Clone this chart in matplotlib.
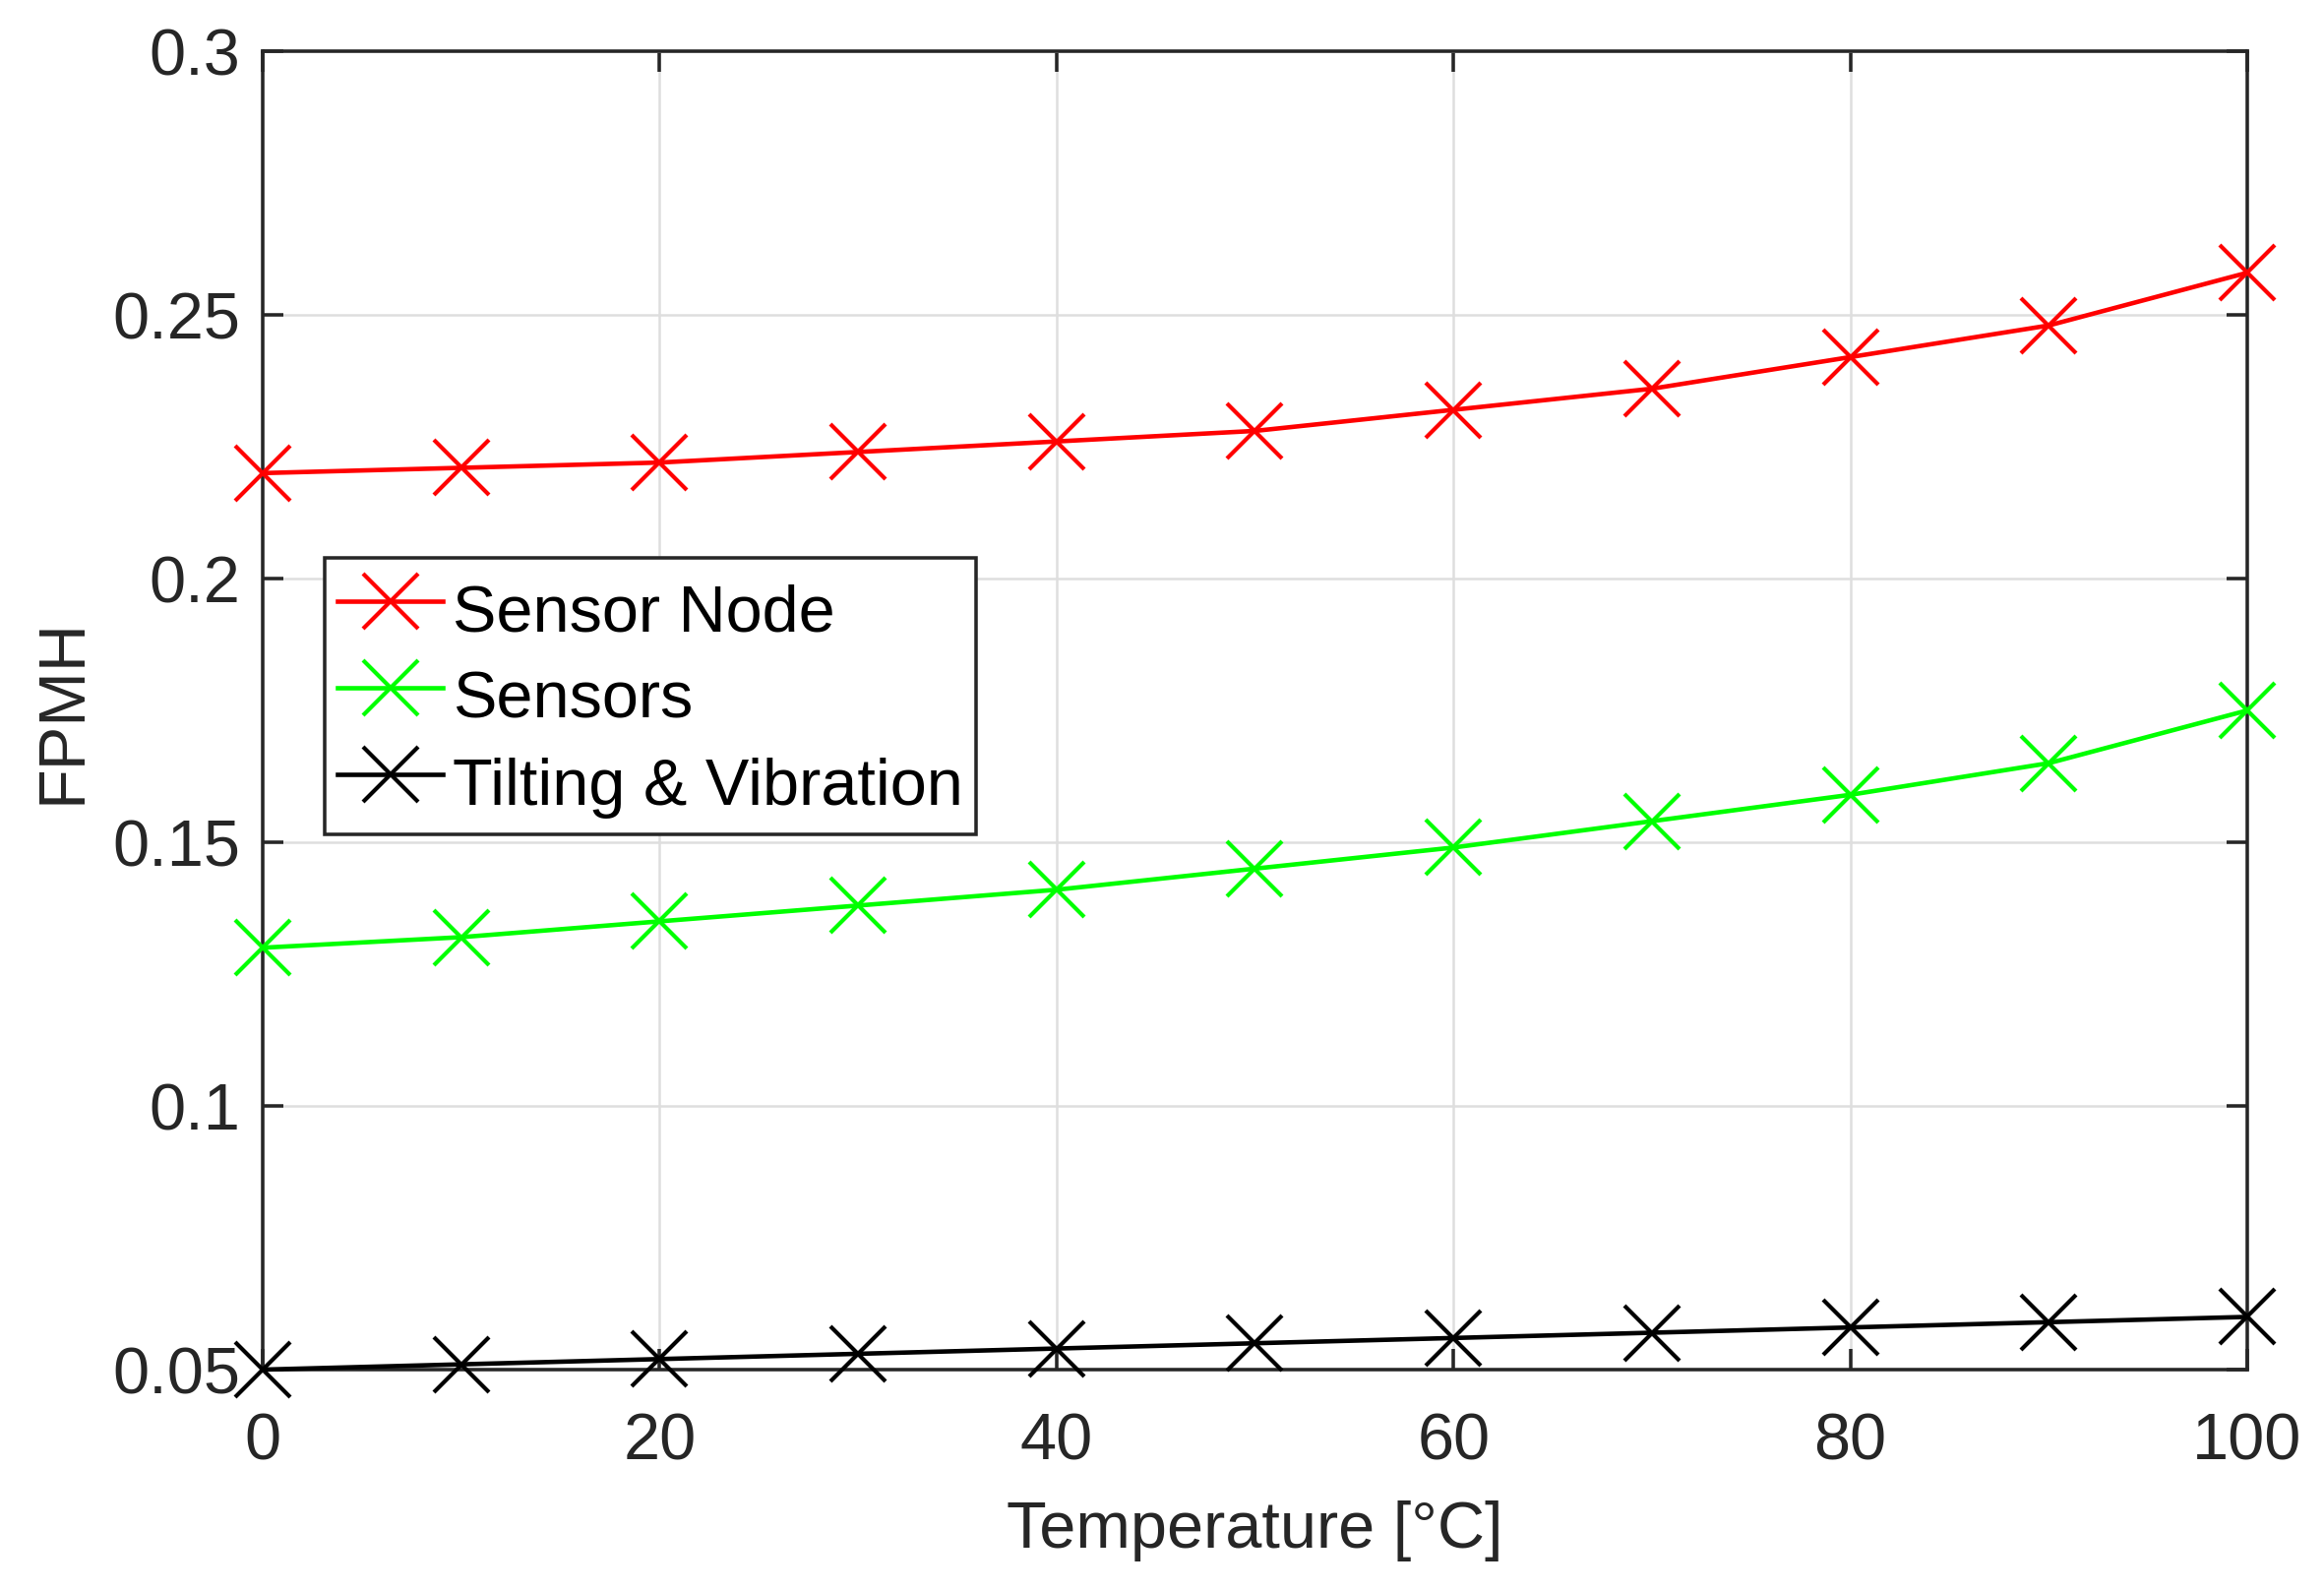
import matplotlib
matplotlib.use("Agg")
import matplotlib.pyplot as plt

# values
temps = [0, 10, 20, 30, 40, 50, 60, 70, 80, 90, 100]
sensor_node = [0.220, 0.221, 0.222, 0.224, 0.226, 0.228, 0.232, 0.236, 0.242, 0.248, 0.258]
sensors = [0.130, 0.132, 0.135, 0.138, 0.141, 0.145, 0.149, 0.154, 0.159, 0.165, 0.175]
tilting = [0.050, 0.051, 0.052, 0.053, 0.054, 0.055, 0.056, 0.057, 0.058, 0.059, 0.060]

series_names = ["Sensor Node", "Sensors", "Tilting & Vibration"]
series_colors = ["#ff0000", "#00ff00", "#000000"]

x_ticks = [0, 20, 40, 60, 80, 100]
y_ticks = [0.05, 0.1, 0.15, 0.2, 0.25, 0.3]
y_tick_labels = ["0.05", "0.1", "0.15", "0.2", "0.25", "0.3"]

plt.rcParams["font.family"] = ["Liberation Sans", "DejaVu Sans"]
AX_COLOR = "#262626"
FS = 32


def make_fig():
    fig = plt.figure(figsize=(2362 / 150, 1616 / 150), dpi=150)
    ax = fig.add_axes([0.1130, 0.1386, 0.9670 - 0.1130, 0.9678 - 0.1386])
    return fig, ax


fig, ax = make_fig()

for vals, name, col in zip([sensor_node, sensors, tilting], series_names, series_colors):
    ax.plot(
        temps, vals,
        color=col, linewidth=2.2,
        marker="x", markersize=27, markeredgewidth=2.0,
        label=name, clip_on=False, zorder=3,
    )

ax.set_xlim(0, 100)
ax.set_ylim(0.05, 0.3)
ax.set_xticks(x_ticks)
ax.set_yticks(y_ticks)
ax.set_yticklabels(y_tick_labels)

ax.grid(True, color="#dedede", linewidth=1.2)
ax.set_axisbelow(True)

for sp in ax.spines.values():
    sp.set_color(AX_COLOR)
    sp.set_linewidth(1.7)

ax.tick_params(
    direction="in", length=10, width=1.7, colors=AX_COLOR,
    labelsize=FS, top=True, right=True,
)
ax.tick_params(axis="x", pad=21)
ax.tick_params(axis="y", pad=11)

ax.set_xlabel("Temperature [°C]", fontsize=FS, color=AX_COLOR, labelpad=13)
ax.set_ylabel("FPMH", fontsize=FS, color=AX_COLOR, labelpad=9)

leg = ax.legend(
    loc="upper left", bbox_to_anchor=(0.0312, 0.6157), borderaxespad=0,
    fontsize=FS, fancybox=False, framealpha=1, edgecolor=AX_COLOR,
    borderpad=0.2, labelspacing=0.155, handlelength=1.6, handletextpad=0.15,
    handleheight=1.42,
)
leg.get_frame().set_linewidth(1.7)

fig.savefig("out.png", dpi=150)
